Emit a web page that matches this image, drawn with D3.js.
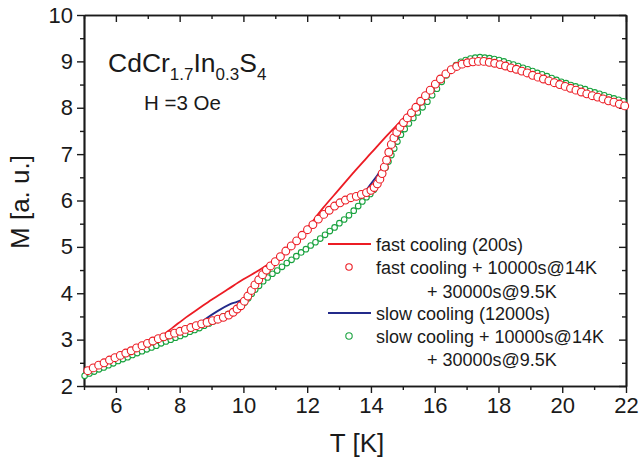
<!DOCTYPE html>
<html>
<head>
<meta charset="utf-8">
<script src="https://cdn.jsdelivr.net/npm/d3@7/dist/d3.min.js"></script>
<style>
    body { margin: 0; background: #fff; }
    svg { display: block; }
    text { font-family: "Liberation Sans", Arial, Helvetica, sans-serif; fill: #1a1a1a; }
</style>
</head>
<body>
<script>

// -- data --

// fast cooling (200s), red line
var fastT = [5.0, 5.5, 6.0, 6.5, 7.0, 7.4, 7.8, 8.2, 8.6, 9.0, 9.5, 10.0, 10.5, 11.0, 11.5, 12.0,
    12.5, 13.0, 13.5, 14.0, 14.5, 15.0, 15.5, 16.0, 16.5, 17.0, 17.5, 18.0, 18.5, 19.0, 19.5,
    20.0, 20.5, 21.0, 21.5, 22.0];
var fastM = [2.31, 2.45, 2.60, 2.75, 2.90, 3.06, 3.27, 3.48, 3.67, 3.86, 4.08, 4.30, 4.50, 4.72, 4.98, 5.40,
    5.84, 6.24, 6.64, 7.02, 7.40, 7.76, 8.13, 8.48, 8.79, 8.96, 9.00, 8.94, 8.84, 8.72, 8.60,
    8.48, 8.36, 8.25, 8.14, 8.03];

// slow cooling (12000s), blue line
var slowT = [5.0, 5.5, 6.0, 6.5, 7.0, 7.5, 8.0, 8.4, 8.8, 9.2, 9.6, 10.0, 10.3, 10.6, 11.0, 11.5,
    12.0, 12.5, 13.0, 13.5, 13.7, 14.0, 14.3, 14.5, 14.8, 15.1, 15.5, 16.0, 16.5, 17.0, 17.5,
    18.0, 18.5, 19.0, 19.5, 20.0, 20.5, 21.0, 21.5, 22.0];
var slowM = [2.22, 2.37, 2.52, 2.66, 2.80, 2.94, 3.09, 3.23, 3.44, 3.62, 3.77, 3.88, 4.12, 4.40, 4.68, 5.01,
    5.36, 5.68, 5.94, 6.07, 6.12, 6.36, 6.64, 6.86, 7.26, 7.60, 7.95, 8.38, 8.80, 9.03, 9.08,
    9.03, 8.93, 8.81, 8.68, 8.56, 8.45, 8.34, 8.22, 8.11];

// fast cooling + 10000s@14K + 30000s@9.5K, red circles
var fastAgedT = [5.12, 5.29, 5.46, 5.63, 5.80, 5.97, 6.14, 6.31, 6.48, 6.65, 6.82, 6.99, 7.16, 7.33,
    7.50, 7.67, 7.84, 8.01, 8.18, 8.35, 8.52, 8.69, 8.86, 9.03, 9.20, 9.37, 9.54, 9.68, 9.80,
    9.92, 10.03, 10.14, 10.25, 10.36, 10.48, 10.60, 10.72, 10.85, 11.00, 11.16, 11.33, 11.50,
    11.67, 11.84, 12.01, 12.18, 12.35, 12.52, 12.69, 12.86, 13.03, 13.20, 13.37, 13.54, 13.70,
    13.86, 14.00, 14.10, 14.20, 14.28, 14.35, 14.42, 14.49, 14.56, 14.64, 14.72, 14.81, 14.91,
    15.02, 15.14, 15.27, 15.41, 15.56, 15.71, 15.86, 16.02, 16.18, 16.35, 16.52, 16.69, 16.86,
    17.03, 17.20, 17.37, 17.54, 17.71, 17.88, 18.05, 18.22, 18.39, 18.56, 18.73, 18.90, 19.07,
    19.24, 19.41, 19.58, 19.75, 19.92, 20.09, 20.26, 20.43, 20.60, 20.77, 20.94, 21.11, 21.28,
    21.45, 21.62, 21.79, 21.96];
var fastAgedM = [2.33, 2.39, 2.45, 2.50, 2.56, 2.61, 2.66, 2.71, 2.76, 2.82, 2.87, 2.92, 2.97, 3.02,
    3.06, 3.10, 3.14, 3.18, 3.22, 3.26, 3.30, 3.34, 3.37, 3.41, 3.44, 3.48, 3.53, 3.59, 3.66,
    3.73, 3.83, 3.94, 4.06, 4.18, 4.29, 4.40, 4.50, 4.59, 4.68, 4.79, 4.91, 5.02,
    5.13, 5.25, 5.37, 5.48, 5.60, 5.70, 5.79, 5.88, 5.95, 6.01, 6.06, 6.09, 6.13,
    6.17, 6.22, 6.28, 6.36, 6.46, 6.58, 6.72, 6.87, 7.04, 7.21, 7.35, 7.47, 7.58,
    7.68, 7.78, 7.89, 8.01, 8.14, 8.26, 8.38, 8.51, 8.62, 8.73, 8.82, 8.89, 8.94,
    8.97, 8.99, 9.00, 9.00, 8.98, 8.96, 8.93, 8.90, 8.86, 8.83, 8.79, 8.75, 8.70,
    8.66, 8.62, 8.58, 8.54, 8.50, 8.46, 8.42, 8.38, 8.34, 8.30, 8.26, 8.23, 8.19,
    8.15, 8.12, 8.08, 8.04];

// slow cooling + 10000s@14K + 30000s@9.5K, green circles
var slowAgedT = [5.02, 5.17, 5.32, 5.47, 5.62, 5.77, 5.92, 6.07, 6.22, 6.37, 6.52, 6.67, 6.82, 6.97,
    7.12, 7.27, 7.42, 7.57, 7.72, 7.87, 8.02, 8.17, 8.32, 8.47, 8.62, 8.77, 8.92, 9.07, 9.22,
    9.37, 9.52, 9.67, 9.80, 9.92, 10.04, 10.15, 10.26, 10.37, 10.49, 10.62, 10.76, 10.91, 11.06,
    11.21, 11.36, 11.51, 11.66, 11.81, 11.96, 12.11, 12.26, 12.41, 12.56, 12.71, 12.86, 13.01,
    13.16, 13.31, 13.46, 13.60, 13.73, 13.86, 13.98, 14.09, 14.19, 14.28, 14.37, 14.46, 14.55,
    14.64, 14.73, 14.83, 14.94, 15.06, 15.19, 15.33, 15.47, 15.62, 15.77, 15.92, 16.07, 16.22,
    16.37, 16.52, 16.67, 16.82, 16.97, 17.12, 17.27, 17.42, 17.57, 17.72, 17.87, 18.02, 18.17,
    18.32, 18.47, 18.62, 18.77, 18.92, 19.07, 19.22, 19.37, 19.52, 19.67, 19.82, 19.97, 20.12,
    20.27, 20.42, 20.57, 20.72, 20.87, 21.02, 21.17, 21.32, 21.47, 21.62, 21.77, 21.92];
var slowAgedM = [2.22, 2.27, 2.31, 2.36, 2.40, 2.45, 2.49, 2.54, 2.58, 2.62, 2.67, 2.71, 2.75, 2.79,
    2.83, 2.87, 2.92, 2.96, 3.00, 3.04, 3.08, 3.12, 3.17, 3.21, 3.25, 3.30, 3.35, 3.40, 3.45,
    3.50, 3.55, 3.60, 3.66, 3.72, 3.80, 3.89, 3.99, 4.08, 4.16, 4.26, 4.34, 4.42, 4.49,
    4.57, 4.65, 4.72, 4.80, 4.88, 4.95, 5.03, 5.10, 5.18, 5.26, 5.34, 5.42, 5.51,
    5.59, 5.68, 5.78, 5.88, 5.98, 6.07, 6.14, 6.23, 6.35, 6.46, 6.58, 6.71, 6.84,
    6.98, 7.12, 7.27, 7.42, 7.54, 7.66, 7.78, 7.90, 8.01, 8.13, 8.27, 8.41, 8.56,
    8.70, 8.82, 8.92, 8.99, 9.03, 9.06, 9.08, 9.09, 9.08, 9.07, 9.05, 9.03, 9.00,
    8.96, 8.93, 8.90, 8.86, 8.83, 8.79, 8.75, 8.72, 8.68, 8.64, 8.60, 8.56, 8.53,
    8.49, 8.46, 8.43, 8.40, 8.36, 8.33, 8.30, 8.27, 8.23, 8.20, 8.17, 8.14];

var xMajor = [6, 8, 10, 12, 14, 16, 18, 20, 22];
var xMinor = [5, 7, 9, 11, 13, 15, 17, 19, 21];
var yMajor = [2, 3, 4, 5, 6, 7, 8, 9, 10];
var yMinor = [2.5, 3.5, 4.5, 5.5, 6.5, 7.5, 8.5, 9.5];

var legendLabels = ["fast cooling (200s)", "fast cooling + 10000s@14K", "+ 30000s@9.5K",
    "slow cooling (12000s)", "slow cooling + 10000s@14K", "+ 30000s@9.5K"];


// -- layout --

var width = 640;
var height = 465;

var red = "#ec1c24";
var blue = "#232a8a";
var green = "#18a23e";
var ink = "#1a1a1a";

var x = d3.scaleLinear().domain([5, 22]).range([84, 626]);
var y = d3.scaleLinear().domain([2, 10]).range([386, 15]);

var svg = d3.select("body").append("svg")
    .attr("width", width)
    .attr("height", height);


// axes: left/bottom ticks outside, top/right mirrored inside
function axis(gen, values, size, transform, labels) {
    var g = svg.append("g")
        .attr("transform", transform)
        .call(gen.tickValues(values).tickSize(size).tickSizeOuter(0)
            .tickPadding(4).tickFormat(labels ? d3.format("d") : ""));
    g.select(".domain").style("stroke", ink).style("stroke-width", 1.7);
    g.selectAll(".tick line").style("stroke", ink).style("stroke-width", 1.4);
    g.selectAll(".tick text")
        .attr("font-size", "22px")
        .attr("font-family", null)
        .style("fill", ink);
    return g;
}

axis(d3.axisBottom(x), xMajor, 7, "translate(0," + y(2) + ")", true);
axis(d3.axisBottom(x), xMinor, 4, "translate(0," + y(2) + ")", false);
axis(d3.axisBottom(x), xMajor, 7, "translate(0," + y(10) + ")", false);
axis(d3.axisBottom(x), xMinor, 4, "translate(0," + y(10) + ")", false);

axis(d3.axisLeft(y), yMajor, 7, "translate(" + x(5) + ",0)", true);
axis(d3.axisLeft(y), yMinor, 4, "translate(" + x(5) + ",0)", false);
axis(d3.axisLeft(y), yMajor, 7, "translate(" + x(22) + ",0)", false);
axis(d3.axisLeft(y), yMinor, 4, "translate(" + x(22) + ",0)", false);

// axis titles
svg.append("text")
    .attr("x", (x(5) + x(22)) / 2 + 2).attr("y", 452)
    .attr("text-anchor", "middle")
    .attr("font-size", "26px")
    .text("T [K]");

svg.append("text")
    .attr("transform", "translate(29," + 202 + ") rotate(-90)")
    .attr("text-anchor", "middle")
    .attr("font-size", "26px")
    .text("M [a. u.]");


// curves
function zip(ts, ms) {
    return ts.map(function (t, i) { return [t, ms[i]]; });
}

var line = d3.line()
    .x(function (d) { return x(d[0]); })
    .y(function (d) { return y(d[1]); })
    .curve(d3.curveMonotoneX);

svg.append("path")
    .datum(zip(slowT, slowM))
    .attr("d", line)
    .style("fill", "none")
    .style("stroke", blue)
    .style("stroke-width", 1.8);

svg.append("path")
    .datum(zip(fastT, fastM))
    .attr("d", line)
    .style("fill", "none")
    .style("stroke", red)
    .style("stroke-width", 1.8);

function circles(data, r, color) {
    svg.append("g").selectAll("circle")
        .data(data)
        .enter().append("circle")
        .attr("cx", function (d) { return x(d[0]); })
        .attr("cy", function (d) { return y(d[1]); })
        .attr("r", r)
        .style("fill", "white")
        .style("stroke", color)
        .style("stroke-width", 1.1);
}

circles(zip(slowAgedT, slowAgedM), 2.8, green);
circles(zip(fastAgedT, fastAgedM), 3.9, red);


// annotation
var formula = svg.append("text")
    .attr("x", 108).attr("y", 72)
    .attr("font-size", "26.5px");
formula.append("tspan").text("CdCr");
formula.append("tspan").attr("font-size", "17px").attr("dy", 8).text("1.7");
formula.append("tspan").attr("dy", -8).text("In");
formula.append("tspan").attr("font-size", "17px").attr("dy", 8).text("0.3");
formula.append("tspan").attr("dy", -8).text("S");
formula.append("tspan").attr("font-size", "17px").attr("dy", 8).text("4");

svg.append("text")
    .attr("x", 144).attr("y", 110)
    .attr("font-size", "20.5px")
    .text("H =3 Oe");


// legend
var rowY = [244, 267, 291, 313, 336, 359];
var rowX = [376, 376, 427, 376, 376, 427];

var legend = svg.append("g");

legend.append("line")
    .attr("x1", 328).attr("x2", 371)
    .attr("y1", rowY[0]).attr("y2", rowY[0])
    .style("stroke", red).style("stroke-width", 1.8);
legend.append("circle")
    .attr("cx", 349).attr("cy", rowY[1]).attr("r", 3.2)
    .style("fill", "white").style("stroke", red).style("stroke-width", 1.1);
legend.append("line")
    .attr("x1", 328).attr("x2", 371)
    .attr("y1", rowY[3]).attr("y2", rowY[3])
    .style("stroke", blue).style("stroke-width", 1.8);
legend.append("circle")
    .attr("cx", 349).attr("cy", rowY[4]).attr("r", 3.2)
    .style("fill", "white").style("stroke", green).style("stroke-width", 1.1);

legend.selectAll("text.lbl")
    .data(legendLabels)
    .enter().append("text")
    .attr("class", "lbl")
    .attr("x", function (d, i) { return rowX[i]; })
    .attr("y", function (d, i) { return rowY[i] + 6.5; })
    .attr("font-size", "18px")
    .text(function (d) { return d; });

</script>
</body>
</html>
